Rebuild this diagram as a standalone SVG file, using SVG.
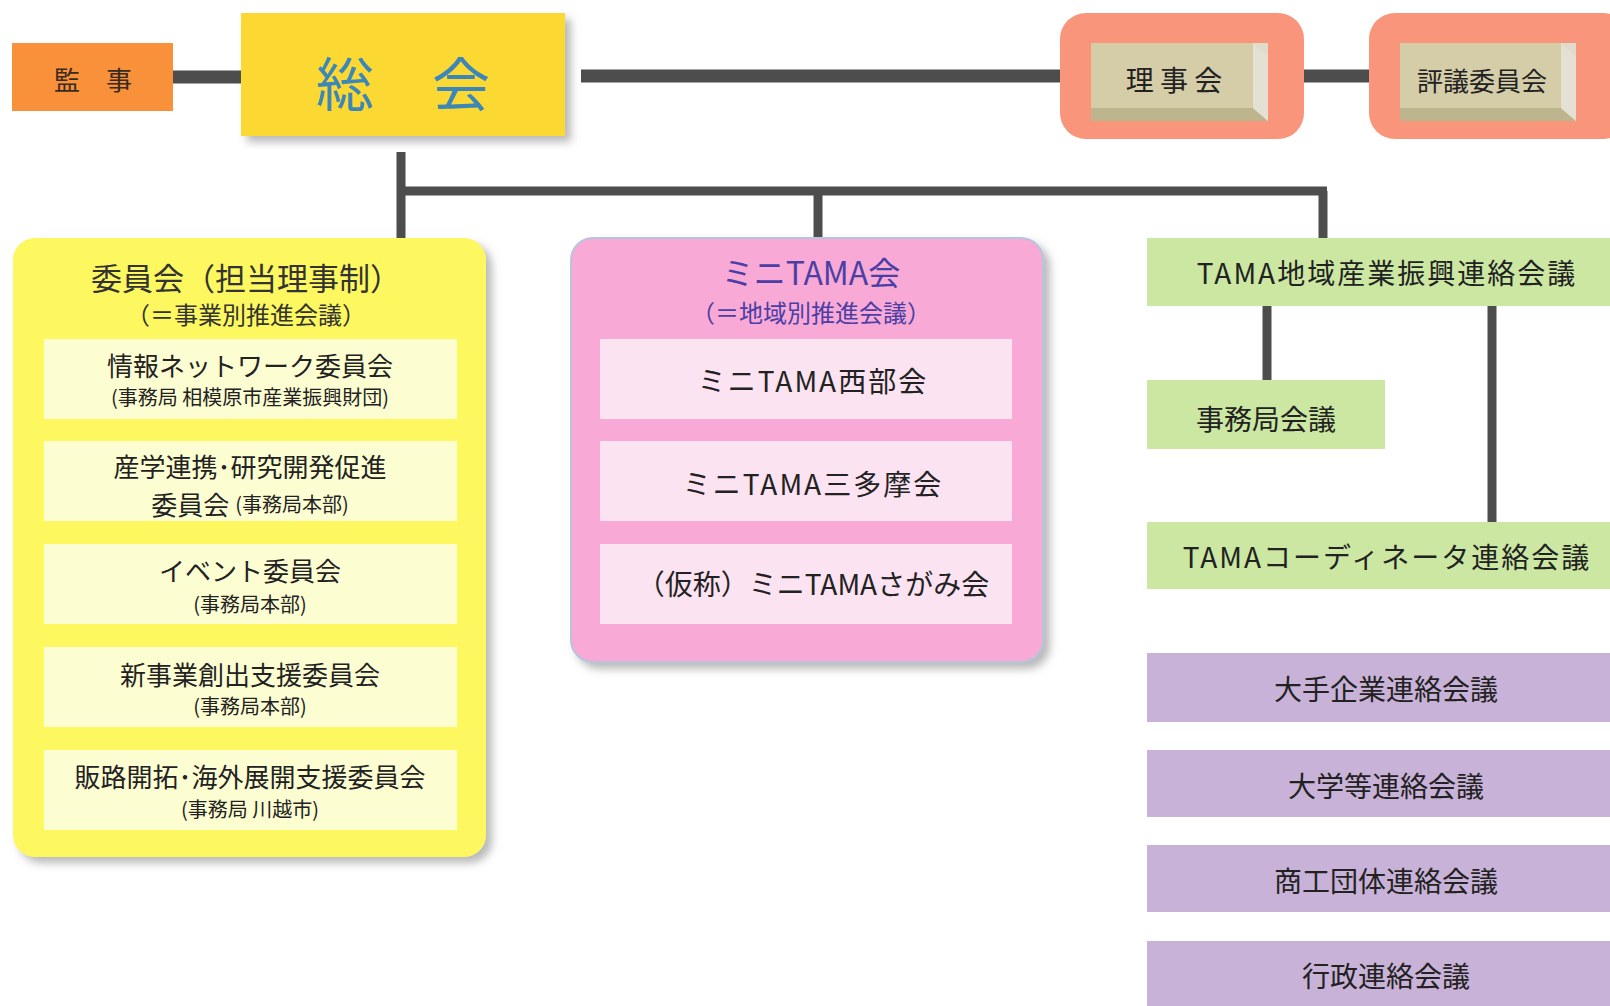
<svg xmlns="http://www.w3.org/2000/svg" width="1610" height="1006" viewBox="0 0 1610 1006">
<defs>
<filter id="sh" x="-5%" y="-5%" width="115%" height="115%">
<feDropShadow dx="6" dy="6" stdDeviation="4" flood-color="#808080" flood-opacity="0.55"/>
</filter>
</defs>
<style>
text{font-family:"Noto Sans CJK JP","Noto Sans CJK SC",sans-serif;text-anchor:middle;dominant-baseline:central;fill:#222}
.ln{stroke:#4d4d4d;fill:none}
.t28{font-size:28px}
.t26{font-size:26px}
.t20{font-size:20px}
.ls{letter-spacing:2px}
.yin{fill:#fdfdd2}
.pin{fill:#fce3f1}
.grn{fill:#cbe7a2}
.pur{fill:#c9b2d7}
.sal{fill:#f8957a}
.face{fill:#d5cca8}
</style>
<rect width="1610" height="1006" fill="#ffffff"/>
<g id="connectors">
<line class="ln" x1="173" y1="77" x2="241" y2="77" stroke-width="13"/>
<line class="ln" x1="581" y1="76" x2="1062" y2="76" stroke-width="13"/>
<line class="ln" x1="1302" y1="76" x2="1371" y2="76" stroke-width="13"/>
<line class="ln" x1="401" y1="152" x2="401" y2="240" stroke-width="9"/>
<line class="ln" x1="397" y1="191" x2="1327" y2="191" stroke-width="9"/>
<line class="ln" x1="818" y1="191" x2="818" y2="240" stroke-width="9"/>
<line class="ln" x1="1323" y1="191" x2="1323" y2="240" stroke-width="9"/>
<line class="ln" x1="1267" y1="306" x2="1267" y2="380" stroke-width="9"/>
<line class="ln" x1="1492" y1="306" x2="1492" y2="522" stroke-width="9"/>
</g>
<g id="kanji">
<rect x="12" y="43" width="161" height="68" fill="#f8913a"/>
<text x="93" y="78" class="t26" style="fill:#3a2a20">監　事</text>
</g>
<g id="soukai">
<rect x="241" y="13" width="324" height="123" fill="#fcd930" filter="url(#sh)"/>
<text x="403" y="81" style="font-size:58px;fill:#3d86b8">総　会</text>
</g>
<g id="rijikai">
<rect x="1060" y="13" width="244" height="126" rx="26" class="sal"/>
<rect x="1091" y="43" width="177" height="78" fill="#e0dccb"/>
<polygon points="1091,108 1253,108 1268,121 1091,121" fill="#bdb58e"/>
<polygon points="1253,43 1268,56 1268,121 1253,108" fill="#e4e1d4"/>
<rect x="1091" y="43" width="162" height="65" class="face"/>
<text x="1174" y="79" class="t28">理 事 会</text>
</g>
<g id="hyogiin">
<rect x="1369" y="13" width="260" height="126" rx="26" class="sal"/>
<rect x="1400" y="43" width="176" height="78" fill="#e0dccb"/>
<polygon points="1400,108 1561,108 1576,121 1400,121" fill="#bdb58e"/>
<polygon points="1561,43 1576,56 1576,121 1561,108" fill="#e4e1d4"/>
<rect x="1400" y="43" width="161" height="65" class="face"/>
<text x="1482" y="79" class="t26">評議委員会</text>
</g>
<g id="iinkai">
<rect x="13" y="238" width="473" height="619" rx="22" fill="#fdf85e" filter="url(#sh)"/>
<text x="246" y="276" style="font-size:31px;fill:#333">委員会（担当理事制）</text>
<text x="246" y="313" style="font-size:24px;fill:#333">（＝事業別推進会議）</text>
<rect x="44" y="339" width="413" height="80" class="yin"/>
<text x="250" y="364" class="t26">情報ネットワーク委員会</text>
<text x="250" y="396" class="t20">(事務局 相模原市産業振興財団)</text>
<rect x="44" y="441" width="413" height="80" class="yin"/>
<text x="250" y="465" class="t26">産学連携･研究開発促進</text>
<text x="250" y="503" class="t26">委員会 <tspan class="t20">(事務局本部)</tspan></text>
<rect x="44" y="544" width="413" height="80" class="yin"/>
<text x="250" y="569" class="t26">イベント委員会</text>
<text x="250" y="603" class="t20">(事務局本部)</text>
<rect x="44" y="647" width="413" height="80" class="yin"/>
<text x="250" y="673" class="t26">新事業創出支援委員会</text>
<text x="250" y="705" class="t20">(事務局本部)</text>
<rect x="44" y="750" width="413" height="80" class="yin"/>
<text x="250" y="775" class="t26">販路開拓･海外展開支援委員会</text>
<text x="250" y="808" class="t20">(事務局 川越市)</text>
</g>
<g id="minitama">
<rect x="571" y="238" width="472" height="424" rx="22" fill="#f8a9d5" stroke="#b8c4dc" stroke-width="2" filter="url(#sh)"/>
<text x="811" y="271" style="font-size:32px;fill:#4b3fa6">ミニTAMA会</text>
<text x="811" y="311" style="font-size:24px;fill:#4b3fa6">（＝地域別推進会議）</text>
<rect x="600" y="339" width="412" height="80" class="pin"/>
<text x="813" y="380" class="t28 ls">ミニTAMA西部会</text>
<rect x="600" y="441" width="412" height="80" class="pin"/>
<text x="813" y="483" class="t28 ls">ミニTAMA三多摩会</text>
<rect x="600" y="544" width="412" height="80" class="pin"/>
<text x="813" y="583" class="t28">（仮称）ミニTAMAさがみ会</text>
</g>
<g id="tama-chiiki">
<rect x="1147" y="238" width="463" height="68" class="grn"/>
<text x="1387" y="272" class="t28 ls">TAMA地域産業振興連絡会議</text>
</g>
<g id="jimukyoku">
<rect x="1147" y="380" width="238" height="69" class="grn"/>
<text x="1266" y="418" class="t28">事務局会議</text>
</g>
<g id="coordinator">
<rect x="1147" y="522" width="463" height="67" class="grn"/>
<text x="1387" y="556" class="t28 ls">TAMAコーディネータ連絡会議</text>
</g>
<g id="ote">
<rect x="1147" y="653" width="463" height="69" class="pur"/>
<text x="1386" y="688" class="t28">大手企業連絡会議</text>
</g>
<g id="daigaku">
<rect x="1147" y="750" width="463" height="67" class="pur"/>
<text x="1386" y="785" class="t28">大学等連絡会議</text>
</g>
<g id="shoko">
<rect x="1147" y="845" width="463" height="67" class="pur"/>
<text x="1386" y="880" class="t28">商工団体連絡会議</text>
</g>
<g id="gyosei">
<rect x="1147" y="941" width="463" height="65" class="pur"/>
<text x="1386" y="975" class="t28">行政連絡会議</text>
</g>
</svg>
